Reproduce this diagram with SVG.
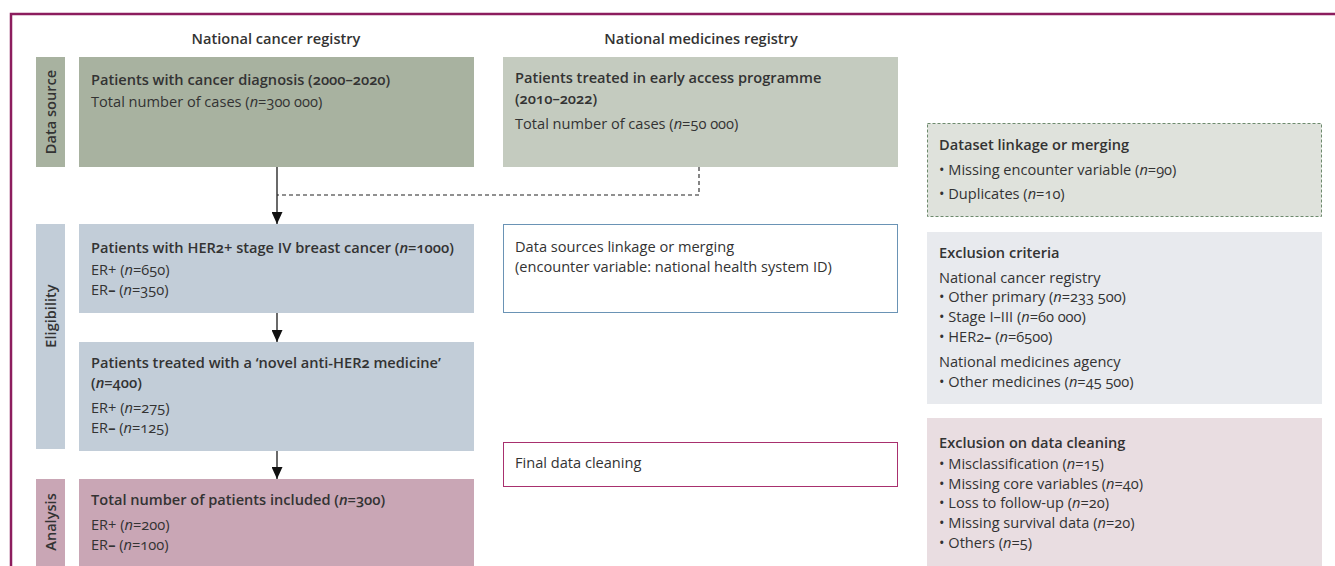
<svg xmlns="http://www.w3.org/2000/svg" width="1335" height="566" viewBox="0 0 1335 566">
<defs>
<style>
text{font-family:"Open Sans","Liberation Sans",sans-serif;font-size:14.6px;fill:#333;font-variant-numeric:oldstyle-nums}
.b{font-weight:600}
.h{font-weight:600;text-anchor:middle}
.v{font-weight:600;text-anchor:middle}
.i{font-style:italic}
.m{font-weight:700}
.conn{stroke:#444;stroke-width:1.6;fill:none}
.dash{stroke:#222;stroke-width:1.1;fill:none;stroke-dasharray:4 3}
</style>
<marker id="arr" viewBox="0 0 12 11" refX="12" refY="5.5" markerWidth="12" markerHeight="11" markerUnits="userSpaceOnUse" orient="auto">
<path d="M0,0 L12,5.5 L0,11 Z" fill="#111"/>
</marker>
</defs>
<rect width="1335" height="566" fill="#fff"/>
<path d="M11,566 V14 H1335" fill="none" stroke="#8c1d5e" stroke-width="2.5"/>

<g id="headers">
<text class="h" x="276" y="44">National cancer registry</text>
<text class="h" x="701" y="44">National medicines registry</text>
</g>

<g id="label-datasource">
<rect x="36" y="57" width="29" height="110" fill="#a8b2a0"/>
<text class="v" transform="translate(55.5,112) rotate(-90)">Data source</text>
</g>
<g id="label-eligibility">
<rect x="36" y="224" width="29" height="225" fill="#c2cdd8"/>
<text class="v" transform="translate(55.5,316) rotate(-90)">Eligibility</text>
</g>
<g id="label-analysis">
<rect x="36" y="479" width="29" height="87" fill="#c9a6b5"/>
<text class="v" transform="translate(55.5,522) rotate(-90)">Analysis</text>
</g>

<g id="connectors">
<path class="conn" d="M277,167 V224" marker-end="url(#arr)"/>
<path class="conn" d="M277,313 V342" marker-end="url(#arr)"/>
<path class="conn" d="M277,451 V479" marker-end="url(#arr)"/>
<path class="dash" d="M699,167 V195 H277"/>
</g>

<g id="cancer-registry">
<rect x="79" y="57" width="395" height="110" fill="#a8b2a0"/>
<text class="b" x="91" y="85">Patients with cancer diagnosis (2000–2020)</text>
<text x="91" y="107">Total number of cases (<tspan class="i">n</tspan>=300 000)</text>
</g>

<g id="medicines-registry">
<rect x="503" y="57" width="395" height="110" fill="#c4cbbf"/>
<text class="b" x="515" y="83">Patients treated in early access programme</text>
<text class="b" x="515" y="104">(2010–2022)</text>
<text x="515" y="129">Total number of cases (<tspan class="i">n</tspan>=50 000)</text>
</g>

<g id="dataset-linkage">
<rect x="927.5" y="123.5" width="394" height="93" fill="#dfe2dc" stroke="#6d8a6d" stroke-width="1" stroke-dasharray="3 2"/>
<text class="b" x="939" y="150">Dataset linkage or merging</text>
<text x="939" y="175">• Missing encounter variable (<tspan class="i">n</tspan>=90)</text>
<text x="939" y="199">• Duplicates (<tspan class="i">n</tspan>=10)</text>
</g>

<g id="her2-box">
<rect x="79" y="224" width="395" height="89" fill="#c2cdd8"/>
<text class="b" x="91" y="253">Patients with HER2+ stage IV breast cancer (<tspan class="i">n</tspan>=1000)</text>
<text x="91" y="275">ER+ (<tspan class="i">n</tspan>=650)</text>
<text x="91" y="295">ER<tspan class="m">–</tspan> (<tspan class="i">n</tspan>=350)</text>
</g>

<g id="linkage-box">
<rect x="503.5" y="224.5" width="394" height="88" fill="#fff" stroke="#6a93b5" stroke-width="1"/>
<text x="515" y="252">Data sources linkage or merging</text>
<text x="515" y="272">(encounter variable: national health system ID)</text>
</g>

<g id="exclusion-criteria">
<rect x="927" y="232" width="395" height="172" fill="#e8eaee"/>
<text class="b" x="939" y="258">Exclusion criteria</text>
<text x="939" y="283">National cancer registry</text>
<text x="939" y="302">• Other primary (<tspan class="i">n</tspan>=233 500)</text>
<text x="939" y="322">• Stage I–III (<tspan class="i">n</tspan>=60 000)</text>
<text x="939" y="342">• HER2<tspan class="m">–</tspan> (<tspan class="i">n</tspan>=6500)</text>
<text x="939" y="367">National medicines agency</text>
<text x="939" y="387">• Other medicines (<tspan class="i">n</tspan>=45 500)</text>
</g>

<g id="novel-box">
<rect x="79" y="342" width="395" height="109" fill="#c2cdd8"/>
<text class="b" x="91" y="368">Patients treated with a ‘novel anti-HER2 medicine’</text>
<text class="b" x="91" y="388">(<tspan class="i">n</tspan>=400)</text>
<text x="91" y="413">ER+ (<tspan class="i">n</tspan>=275)</text>
<text x="91" y="433">ER<tspan class="m">–</tspan> (<tspan class="i">n</tspan>=125)</text>
</g>

<g id="final-cleaning">
<rect x="503.5" y="442.5" width="394" height="44" fill="#fff" stroke="#a8306e" stroke-width="1"/>
<text x="515" y="468">Final data cleaning</text>
</g>

<g id="exclusion-cleaning">
<rect x="927" y="418" width="395" height="148" fill="#e9dde1"/>
<text class="b" x="939" y="448">Exclusion on data cleaning</text>
<text x="939" y="469">• Misclassification (<tspan class="i">n</tspan>=15)</text>
<text x="939" y="489">• Missing core variables (<tspan class="i">n</tspan>=40)</text>
<text x="939" y="508">• Loss to follow-up (<tspan class="i">n</tspan>=20)</text>
<text x="939" y="528">• Missing survival data (<tspan class="i">n</tspan>=20)</text>
<text x="939" y="548">• Others (<tspan class="i">n</tspan>=5)</text>
</g>

<g id="analysis-box">
<rect x="79" y="479" width="395" height="87" fill="#c9a6b5"/>
<text class="b" x="91" y="505">Total number of patients included (<tspan class="i">n</tspan>=300)</text>
<text x="91" y="530">ER+ (<tspan class="i">n</tspan>=200)</text>
<text x="91" y="550">ER<tspan class="m">–</tspan> (<tspan class="i">n</tspan>=100)</text>
</g>
</svg>
